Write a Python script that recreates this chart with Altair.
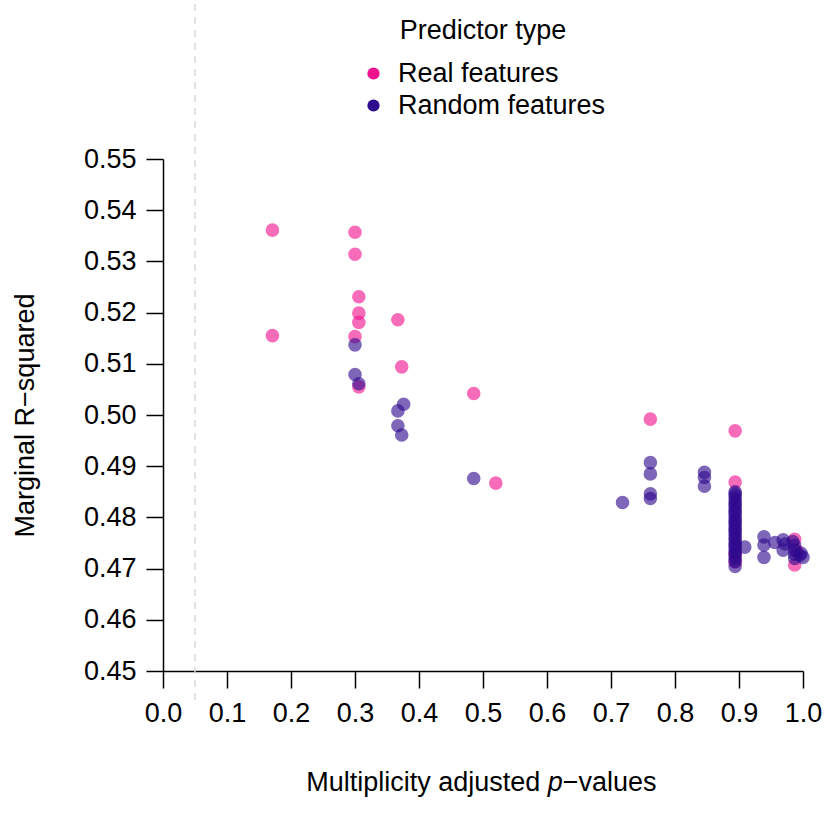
import altair as alt
import pandas as pd

# ---- data ----
real_p = [0.171, 0.171, 0.300, 0.300, 0.306, 0.306, 0.306, 0.300, 0.306, 0.367, 0.373,
          0.4855, 0.520, 0.7615, 0.894, 0.894, 0.894, 0.894, 0.987, 0.987, 0.990]
real_r2 = [0.5361, 0.5155, 0.5357, 0.5314, 0.5231, 0.5199, 0.5181, 0.5153, 0.5055, 0.5186, 0.5094,
           0.5042, 0.4867, 0.4992, 0.4969, 0.4869, 0.4728, 0.4713, 0.4757, 0.4707, 0.4735]

random_p = [0.300, 0.300, 0.306, 0.376, 0.367, 0.367, 0.373, 0.4855, 0.718,
            0.7615, 0.7615, 0.7615, 0.7615, 0.846, 0.846, 0.846,
            0.894, 0.894, 0.894, 0.894, 0.894, 0.894, 0.894, 0.894, 0.894, 0.894,
            0.894, 0.894, 0.894, 0.894, 0.894, 0.894, 0.894, 0.894, 0.894, 0.894,
            0.894, 0.894, 0.894, 0.894, 0.894, 0.894, 0.894, 0.894, 0.894,
            0.909, 0.939, 0.939, 0.939, 0.956, 0.969, 0.969, 0.972,
            0.984, 0.987, 0.987, 0.987, 0.987, 0.997, 1.000, 0.995]
random_r2 = [0.5137, 0.5079, 0.5061, 0.5021, 0.5008, 0.4979, 0.4961, 0.4876, 0.4829,
             0.4907, 0.4885, 0.4846, 0.4837, 0.4888, 0.4878, 0.4861,
             0.4850, 0.4846, 0.4841, 0.4836, 0.4830, 0.4826, 0.4821, 0.4815, 0.4811, 0.4806,
             0.4800, 0.4795, 0.4791, 0.4786, 0.4780, 0.4776, 0.4771, 0.4766, 0.4760, 0.4756,
             0.4750, 0.4746, 0.4741, 0.4735, 0.4731, 0.4725, 0.4719, 0.4714, 0.4704,
             0.4742, 0.4762, 0.4746, 0.4722, 0.4751, 0.4756, 0.4736, 0.4748,
             0.4753, 0.4745, 0.4736, 0.4728, 0.4720, 0.4730, 0.4722, 0.4726]

groups = ["Real features", "Random features"]
colors = ["#F0128E", "#2E0A8E"]
x_ticks = [0.0, 0.1, 0.2, 0.3, 0.4, 0.5, 0.6, 0.7, 0.8, 0.9, 1.0]
y_ticks = [0.45, 0.46, 0.47, 0.48, 0.49, 0.50, 0.51, 0.52, 0.53, 0.54, 0.55]
threshold = [0.05]
x_title_parts = ["Multiplicity adjusted", "p", "\u2212values"]

df = pd.concat([
    pd.DataFrame({"p": real_p, "r2": real_r2, "type": groups[0]}),
    pd.DataFrame({"p": random_p, "r2": random_r2, "type": groups[1]}),
], ignore_index=True)

FONT = "Liberation Sans"
FS = 27

x_enc = alt.X("p:Q",
              scale=alt.Scale(domain=[0, 1], nice=False, zero=False),
              axis=alt.Axis(values=x_ticks, format=".1f", title=None, grid=False,
                            tickSize=17, tickWidth=1.5, tickColor="black",
                            domainColor="black", domainWidth=1.5,
                            labelFont=FONT, labelFontSize=FS, labelColor="black",
                            labelPadding=12, labelFlush=False, labelOverlap=False))
y_enc = alt.Y("r2:Q",
              scale=alt.Scale(domain=[0.45, 0.55], nice=False, zero=False),
              axis=alt.Axis(values=y_ticks, format=".2f", title="Marginal R\u2212squared",
                            grid=False, tickSize=17, tickWidth=1.5, tickColor="black",
                            domainColor="black", domainWidth=1.5,
                            labelFont=FONT, labelFontSize=FS, labelColor="black",
                            labelPadding=10, labelFlush=False, labelOverlap=False,
                            titleFont=FONT, titleFontSize=FS, titleFontWeight="normal",
                            titleColor="black", titleX=-138, titleY=256,
                            titleAngle=-90, titleAlign="center", titleBaseline="middle"))

rule = alt.Chart(pd.DataFrame({"p": threshold})).mark_rule(
    color="#D9D9D9", strokeDash=[7, 6], strokeWidth=1.5
).encode(x=x_enc, y=alt.value(-155), y2=alt.value(545))

points = alt.Chart(df).mark_circle(size=185, opacity=0.62).encode(
    x=x_enc,
    y=y_enc,
    color=alt.Color("type:N",
                    scale=alt.Scale(domain=groups, range=colors),
                    sort=groups,
                    legend=alt.Legend(title="Predictor type", orient="none",
                                      legendX=197, legendY=-141,
                                      titleFont=FONT, titleFontSize=FS, titleFontWeight="normal",
                                      titleColor="black", titleAnchor="middle",
                                      titlePadding=15, titleLimit=0,
                                      labelFont=FONT, labelFontSize=FS, labelColor="black",
                                      labelOffset=11, labelLimit=0,
                                      symbolSize=150, symbolOpacity=1,
                                      symbolType="circle", symbolStrokeWidth=0,
                                      rowPadding=4, padding=0)),
)

tdf = pd.DataFrame({"t": x_title_parts})
t1 = alt.Chart(tdf.iloc[[0]]).mark_text(
    font=FONT, fontSize=FS, align="right", baseline="middle", color="black"
).encode(text="t:N", x=alt.value(377.3), y=alt.value(624))
t2 = alt.Chart(tdf.iloc[[1]]).mark_text(
    font=FONT, fontSize=FS, fontStyle="italic", align="left", baseline="middle", color="black"
).encode(text="t:N", x=alt.value(384.8), y=alt.value(624))
t3 = alt.Chart(tdf.iloc[[2]]).mark_text(
    font=FONT, fontSize=FS, align="left", baseline="middle", color="black"
).encode(text="t:N", x=alt.value(399.8), y=alt.value(624))

chart = alt.layer(rule, points, t1, t2, t3).properties(
    width=640, height=512,
    autosize=alt.AutoSizeParams(type="none"),
    padding={"left": 163, "top": 159, "right": 23, "bottom": 158},
).configure(font=FONT, background="white").configure_view(stroke=None)

chart.save("out.html", embed_options={"renderer": "svg", "actions": False})
